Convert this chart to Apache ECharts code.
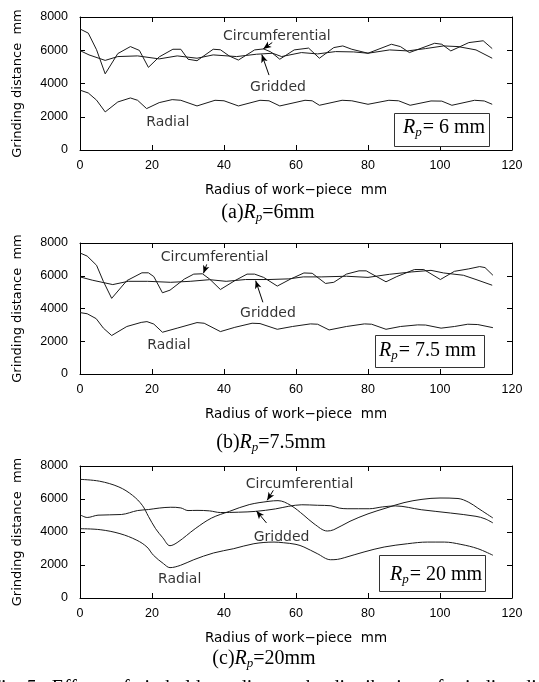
<!DOCTYPE html>
<html><head><meta charset="utf-8">
<script src="https://cdn.jsdelivr.net/npm/echarts@6/dist/echarts.min.js"></script>
<style>html,body{margin:0;padding:0;background:#fff}#c{width:539px;height:682px}</style>
</head><body><div id="c"></div>
<script>
// ---------- axis ticks ----------
const xMin = 0, xMax = 120, xStep = 20;
const yMin = 0, yMax = 8000, yStep = 2000;

// ---------- panel (a) Rp = 6 mm ----------
const aCircX = [0, 2.3, 4.6, 7, 10.5, 14, 16.5, 19, 22, 25.8, 28, 30, 32.5, 37, 39, 41.5, 44, 48.5, 51, 53, 55.5, 59.5, 63.5, 66.5, 70.5, 73, 75.5, 80, 86.5, 89, 91.5, 98.5, 100.5, 103, 108, 112, 114.5];
const aCircY = [7280, 7030, 6030, 4580, 5800, 6220, 5990, 4970, 5600, 6060, 6060, 5460, 5370, 6060, 6030, 5650, 5410, 6020, 6080, 5900, 5460, 6020, 6130, 5520, 6160, 6260, 6060, 5820, 6360, 6220, 5860, 6420, 6360, 5960, 6460, 6570, 6100];
const aGridX = [0, 2.5, 7, 10.5, 16, 22, 27, 32.5, 37, 43.5, 49, 53.5, 56, 61.5, 66, 71, 76, 80, 86, 91, 96, 101, 105, 110, 114.5];
const aGridY = [5980, 5720, 5390, 5620, 5660, 5480, 5660, 5520, 5720, 5620, 5760, 5820, 5620, 5860, 5780, 5920, 5900, 5820, 6020, 5960, 6100, 6260, 6220, 6020, 5520];
const aRadX = [0, 2.3, 4.6, 7, 10.5, 14, 16, 18.5, 22, 25.6, 28, 32.5, 37.5, 40, 44, 50, 52.5, 55.5, 62.5, 64.5, 66.5, 72.8, 75.5, 80, 85.8, 88.5, 91.7, 97.5, 100.5, 103.3, 109.6, 112.3, 114.5];
const aRadY = [3600, 3430, 3000, 2290, 2890, 3130, 2990, 2490, 2850, 3030, 2990, 2650, 2990, 2960, 2650, 2990, 2960, 2650, 2990, 2960, 2690, 2990, 2960, 2750, 2990, 2960, 2690, 2950, 2940, 2690, 2990, 2950, 2750];

// ---------- panel (b) Rp = 7.5 mm ----------
const bCircX = [0, 2, 4.6, 6.5, 8.8, 13, 17.2, 19, 20.5, 22.9, 25, 29, 31.6, 34, 36, 39, 43, 46.4, 48.5, 51, 54.8, 58.5, 62.2, 64.5, 68.2, 70.5, 74, 77.5, 79.5, 85, 88, 92.9, 95.5, 100.1, 104, 108, 111, 112.5, 114.7];
const bCircY = [7390, 7200, 6640, 5650, 4620, 5700, 6180, 6180, 5950, 4960, 5120, 5800, 6100, 6120, 5800, 5160, 5700, 6100, 6100, 5900, 5370, 5800, 6170, 6150, 5530, 5600, 6100, 6300, 6300, 5630, 5950, 6380, 6380, 5770, 6270, 6420, 6560, 6500, 6030];
const bGridX = [0, 3.4, 9.1, 13.4, 18.8, 25.2, 30.6, 36, 40.6, 46, 52.5, 58, 62, 67, 74, 80, 86, 92, 97.5, 101, 106.5, 110, 114.5];
const bGridY = [5930, 5730, 5460, 5660, 5660, 5600, 5660, 5760, 5660, 5770, 5770, 5810, 5930, 5930, 5970, 5900, 6090, 6230, 6330, 6170, 6030, 5770, 5420];
const bRadX = [0, 2, 4.5, 6.5, 8.8, 13, 17, 18.6, 20.5, 22.9, 27, 32.5, 34.5, 39, 43, 47.8, 50, 54.8, 59, 64, 66, 69.2, 74, 79, 81, 85, 89, 93.8, 96, 100.3, 104, 107.7, 110.5, 114.7];
const bRadY = [3750, 3680, 3380, 2800, 2350, 2900, 3150, 3200, 3050, 2550, 2800, 3140, 3100, 2590, 2850, 3100, 3080, 2730, 2900, 3060, 3040, 2690, 2900, 3060, 3040, 2730, 2900, 3000, 2990, 2800, 2900, 3040, 3020, 2830];

// ---------- panel (c) Rp = 20 mm ----------
const cCircX = [0, 5.4, 10.8, 14.6, 17.3, 19, 21, 23, 25, 27.2, 32, 36.5, 41.5, 47, 52.5, 55, 58.5, 62.2, 65, 68.7, 70.5, 75, 80, 85, 90, 95, 100, 105, 108, 110.5, 114.7];
const cCircY = [7190, 7080, 6730, 6220, 5620, 4950, 4200, 3650, 3170, 3390, 4200, 4840, 5250, 5660, 5860, 5900, 5620, 5010, 4500, 4060, 4140, 4650, 5100, 5450, 5780, 5980, 6060, 6030, 5800, 5450, 4850];
const cGridX = [0, 2, 5, 11.5, 16, 19, 22, 25.2, 28, 30, 32.5, 36, 39, 44, 48.8, 54.3, 58, 61.6, 66, 69.7, 72, 74.2, 80.4, 84, 87.6, 94.8, 102.9, 110, 112.5, 114.7];
const cGridY = [5050, 4880, 5020, 5060, 5300, 5360, 5450, 5500, 5460, 5300, 5310, 5280, 5180, 5200, 5250, 5400, 5560, 5650, 5620, 5590, 5450, 5410, 5410, 5520, 5580, 5350, 5150, 4950, 4800, 4550];
const cRadX = [0, 5.6, 11.1, 15.8, 18.6, 20.4, 23.2, 25, 27.9, 31.6, 37.1, 42.7, 48.3, 53.9, 56.5, 60, 62.2, 65.9, 69.6, 71.5, 73.4, 78.9, 84.5, 91, 96.5, 101.2, 105.8, 110.5, 114.7];
const cRadY = [4200, 4140, 3900, 3500, 3090, 2590, 2080, 1840, 1980, 2320, 2730, 2990, 3290, 3390, 3350, 3250, 3090, 2690, 2320, 2340, 2440, 2790, 3090, 3290, 3390, 3390, 3250, 2990, 2590];

// ---------- annotation texts ----------
const seriesNames = ['Circumferential', 'Gridded', 'Radial'];
const aLabelX = [54.7, 55, 24.4], aLabelY = [6857, 3790, 1684];
const bLabelX = [37.4, 52.2, 24.7], bLabelY = [7145, 3725, 1771];
const cLabelX = [61, 56, 27.7],     cLabelY = [6909, 3697, 1150];
// arrows: [fromX, fromY, toX, toY] for Circumferential and Gridded
const aArrows = [[53.4, 6464, 50.9, 6080], [52.5, 4505, 50.5, 5740]];
const bArrows = [[35.2, 6695, 34.3, 6150], [50.8, 4380, 48.8, 5700]];
const cArrows = [[53.7, 6525, 52, 5920], [51.8, 4550, 49, 5280]];

const boxTexts = ['= 6 mm', '= 7.5 mm', '= 20 mm'];
const captionTags = ['(a)', '(b)', '(c)'];
const captionVals = ['=6mm', '=7.5mm', '=20mm'];
const xTitle = 'Radius of work\u2212piece  mm';
const yTitle = 'Grinding distance  mm';

// ---------- build ----------
const panels = [
  {circ:[aCircX,aCircY], grid:[aGridX,aGridY], rad:[aRadX,aRadY], lx:aLabelX, ly:aLabelY, arr:aArrows},
  {circ:[bCircX,bCircY], grid:[bGridX,bGridY], rad:[bRadX,bRadY], lx:bLabelX, ly:bLabelY, arr:bArrows},
  {circ:[cCircX,cCircY], grid:[cGridX,cGridY], rad:[cRadX,cRadY], lx:cLabelX, ly:cLabelY, arr:cArrows}
];
const grids = [
  {left:80, top:17, width:432, height:133},
  {left:80, top:243, width:432, height:131},
  {left:80, top:466, width:432, height:132}
];
const sansLab = 'DejaVu Sans';
const tickFont = 'Liberation Sans';
const black = '#000';

const xAxes = [], yAxes = [], series = [];
grids.forEach((g, i) => {
  const base = {type:'value', gridIndex:i, min:xMin, max:xMax, interval:xStep,
    axisLine:{show:true, onZero:false, lineStyle:{color:black, width:1}},
    axisTick:{show:true, inside:true, length:5, lineStyle:{color:black, width:1}},
    splitLine:{show:false}};
  xAxes.push(Object.assign({}, base, {position:'bottom',
    axisLabel:{show:true, margin:9, fontSize:12.5, color:black, fontFamily:tickFont, formatter: v => String(v)},
    name:xTitle, nameLocation:'middle', nameGap:33,
    nameTextStyle:{fontFamily:sansLab, fontSize:13.5, color:black}}));
  xAxes.push(Object.assign({}, base, {position:'top', axisLabel:{show:false}}));
  const ybase = {type:'value', gridIndex:i, min:yMin, max:yMax, interval:yStep,
    axisLine:{show:true, onZero:false, lineStyle:{color:black, width:1}},
    axisTick:{show:true, inside:true, length:5, lineStyle:{color:black, width:1}},
    splitLine:{show:false}};
  yAxes.push(Object.assign({}, ybase, {position:'left',
    axisLabel:{show:true, margin:12, fontSize:12.5, color:black, fontFamily:tickFont, formatter: v => String(v)},
    name:yTitle, nameLocation:'middle', nameGap:56, nameRotate:90,
    nameTextStyle:{fontFamily:sansLab, fontSize:13, color:black}}));
  yAxes.push(Object.assign({}, ybase, {position:'right', axisLabel:{show:false}}));

  const p = panels[i];
  const smooth = i === 2 ? 0.35 : false;
  [p.circ, p.grid, p.rad].forEach(([xs, ys], k) => {
    series.push({type:'line', name:seriesNames[k], xAxisIndex:2*i, yAxisIndex:2*i,
      data: xs.map((x, j) => [x, ys[j]]), symbol:'none', smooth:smooth, silent:true,
      lineStyle:{color:'#1a1a1a', width:1}});
  });
  series.push({type:'scatter', xAxisIndex:2*i, yAxisIndex:2*i, symbolSize:0, silent:true,
    data: seriesNames.map((n, k) => [p.lx[k], p.ly[k], n]),
    label:{show:true, position:'inside', formatter: d => d.data[2],
      fontFamily:sansLab, fontSize:14, color:black},
    markLine:{silent:true, symbol:['none','arrow'], symbolSize:[5,8], animation:false,
      label:{show:false}, lineStyle:{color:black, width:1, type:'solid'},
      data: p.arr.map(a => [{coord:[a[0], a[1]]}, {coord:[a[2], a[3]]}])}
  });
});

const rich = {
  r:{fontFamily:'Liberation Serif', fontStyle:'italic', fontSize:20, lineHeight:20, verticalAlign:'top', color:black},
  p:{fontFamily:'Liberation Serif', fontStyle:'italic', fontSize:13, lineHeight:20, padding:[8,0,0,0], verticalAlign:'top', color:black},
  t:{fontFamily:'Liberation Serif', fontSize:20, lineHeight:20, verticalAlign:'top', color:black},
  b:{fontFamily:'Liberation Serif', fontSize:20, lineHeight:20, verticalAlign:'top', padding:[0,0,0,1], color:black}
};
const boxRects = [[394,113,95,33],[375,335,109,32],[379,555,106,36]];
const boxTextPos = [[403,118],[379,341],[390,565]];
const capPos = [[268,203],[271,433],[264,649]];
const graphic = [];
for (let i = 0; i < 3; i++) {
  const [bx, by, bw, bh] = boxRects[i];
  graphic.push({type:'rect', shape:{x:bx+0.5, y:by+0.5, width:bw, height:bh},
    style:{fill:'#fff', stroke:'#333', lineWidth:1}, z:100});
  graphic.push({type:'text', x:boxTextPos[i][0], y:boxTextPos[i][1], z:101,
    style:{text:'{r|R}{p|p}{b|' + boxTexts[i] + '}', rich:rich, align:'left', verticalAlign:'top'}});
  graphic.push({type:'text', x:capPos[i][0], y:capPos[i][1], z:101,
    style:{text:'{t|' + captionTags[i] + '}{r|R}{p|p}{t|' + captionVals[i] + '}', rich:rich, align:'center', verticalAlign:'top'}});
}
graphic.push({type:'text', x:-10, y:679, z:101,
  style:{text:'Fig. 5   Effects of pin holder radius on the distribution of grinding distance',
    fontFamily:'Liberation Serif', fontSize:20, fill:black, align:'left', verticalAlign:'top'}});

const chart = echarts.init(document.getElementById('c'), null, {renderer:'canvas'});
chart.setOption({animation:false, backgroundColor:'#fff', grid:grids, xAxis:xAxes, yAxis:yAxes, series:series, graphic:graphic});
</script></body></html>
